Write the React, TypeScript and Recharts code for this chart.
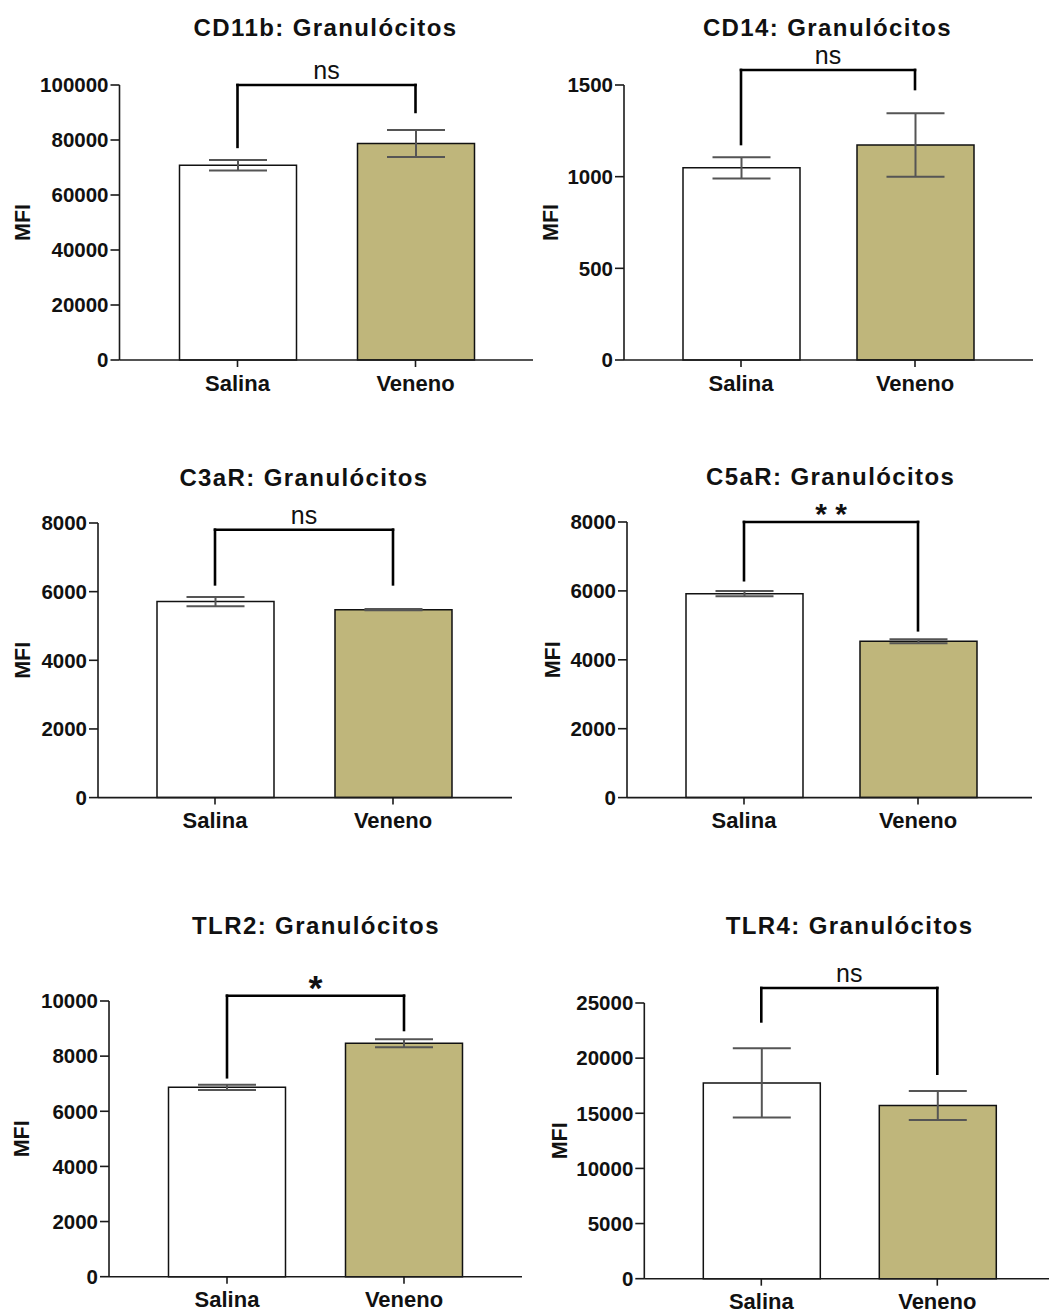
import { BarChart, Bar, XAxis, YAxis, ErrorBar, Cell, ReferenceLine } from "recharts";

const groups = ["Salina", "Veneno"];
const barFills = ["#ffffff", "#bfb67b"];

// mean and SEM per group
const cd11bMean = [70800, 78700];
const cd11bSem = [1900, 4900];
const cd11bTicks = [0, 20000, 40000, 60000, 80000, 100000];
const cd11bBracket = [100000, 77500, 90200]; // top, left leg end, right leg end

const cd14Mean = [1048, 1173];
const cd14Sem = [58, 173];
const cd14Ticks = [0, 500, 1000, 1500];
const cd14Bracket = [1582, 1178, 1478];

const c3arMean = [5710, 5475];
const c3arSem = [135, 18];
const c3arTicks = [0, 2000, 4000, 6000, 8000];
const c3arBracket = [7805, 6212, 6212];

const c5arMean = [5920, 4540];
const c5arSem = [75, 60];
const c5arTicks = [0, 2000, 4000, 6000, 8000];
const c5arBracket = [8000, 6310, 4856];

const tlr2Mean = [6870, 8465];
const tlr2Sem = [95, 145];
const tlr2Ticks = [0, 2000, 4000, 6000, 8000, 10000];
const tlr2Bracket = [10192, 7233, 8948];

const tlr4Mean = [17750, 15700];
const tlr4Sem = [3140, 1315];
const tlr4Ticks = [0, 5000, 10000, 15000, 20000, 25000];
const tlr4Bracket = [26360, 23330, 18590];

const FONT = '"Liberation Sans", Arial, Helvetica, sans-serif';
const INK = "#111";

type Box = {
  mfiX: number;
  axisX: number;
  right: number;
  plotTop: number;
  base: number;
  padL: number;
  padR: number;
  titleX: number;
  titleY: number;
};

type PanelProps = {
  title: string;
  mean: number[];
  sem: number[];
  ticks: number[];
  bracket: number[];
  sig: string;
  sigBold?: boolean;
  sigSize: number;
  sigOffset: number;
  box: Box;
};

const TOP_ROOM = 70;
const X_AXIS_H = 45;

function Panel({ title, mean, sem, ticks, bracket, sig, sigBold, sigSize, sigOffset, box }: PanelProps) {
  const data = groups.map((g, i) => ({ group: g, mfi: mean[i], sem: sem[i] }));
  const left = box.mfiX - 12;
  const width = box.right - left;
  const top = box.plotTop - TOP_ROOM;
  const height = box.base - box.plotTop + TOP_ROOM + X_AXIS_H;
  const [bTop, bLeft, bRight] = bracket;
  const lineStyle = { stroke: "#000", strokeWidth: 2.6, strokeLinecap: "square" as const };

  return (
    <>
      <div
        style={{
          position: "absolute",
          left: box.titleX - 250,
          top: box.titleY - 19.5,
          width: 500,
          textAlign: "center",
          fontFamily: FONT,
          fontWeight: "bold",
          fontSize: 24,
          lineHeight: "22px",
          letterSpacing: 1.4,
          color: INK,
          whiteSpace: "nowrap",
        }}
      >
        {title}
      </div>
      <div style={{ position: "absolute", left, top }}>
        <BarChart
          width={width}
          height={height}
          data={data}
          margin={{ top: TOP_ROOM, right: 0, bottom: 0, left: 0 }}
        >
          <XAxis
            dataKey="group"
            height={X_AXIS_H}
            padding={{ left: box.padL, right: box.padR }}
            stroke="#1a1a1a"
            strokeWidth={1.6}
            tickSize={7}
            tickMargin={8}
            tick={{ fill: INK, fontSize: 22, fontWeight: "bold", fontFamily: FONT }}
          />
          <YAxis
            width={box.axisX - left}
            domain={[0, ticks[ticks.length - 1]]}
            ticks={ticks}
            interval={0}
            stroke="#1a1a1a"
            strokeWidth={1.6}
            tickSize={9}
            tickMargin={2}
            tick={{ fill: INK, fontSize: 20.5, fontWeight: "bold", fontFamily: FONT }}
            label={{
              value: "MFI",
              angle: -90,
              position: "insideLeft",
              offset: 12,
              fill: INK,
              fontSize: 21.5,
              fontWeight: "bold",
              fontFamily: FONT,
              style: { textAnchor: "middle" },
            }}
          />
          <Bar dataKey="mfi" barSize={117} stroke="#111" strokeWidth={1.5} isAnimationActive={false}>
            {data.map((d, i) => (
              <Cell key={d.group} fill={barFills[i]} />
            ))}
            <ErrorBar
              dataKey="sem"
              direction="y"
              width={29}
              stroke="#555"
              strokeWidth={2}
              isAnimationActive={false}
            />
          </Bar>
          <ReferenceLine
            segment={[
              { x: groups[0], y: bTop },
              { x: groups[1], y: bTop },
            ]}
            ifOverflow="visible"
            {...lineStyle}
            label={{
              value: sig,
              position: "top",
              offset: sigOffset,
              fill: INK,
              fontSize: sigSize,
              fontWeight: sigBold ? "bold" : "normal",
              fontFamily: FONT,
            }}
          />
          <ReferenceLine
            segment={[
              { x: groups[0], y: bTop },
              { x: groups[0], y: bLeft },
            ]}
            ifOverflow="visible"
            {...lineStyle}
          />
          <ReferenceLine
            segment={[
              { x: groups[1], y: bTop },
              { x: groups[1], y: bRight },
            ]}
            ifOverflow="visible"
            {...lineStyle}
          />
        </BarChart>
      </div>
    </>
  );
}

export default function App() {
  return (
    <div
      style={{
        position: "absolute",
        left: 0,
        top: 0,
        width: 1049,
        height: 1310,
        overflow: "hidden",
        background: "#fff",
      }}
    >
      <Panel
        title="CD11b: Granulócitos"
        mean={cd11bMean}
        sem={cd11bSem}
        ticks={cd11bTicks}
        bracket={cd11bBracket}
        sig="ns"
        sigSize={25}
        sigOffset={6}
        box={{ mfiX: 21.5, axisX: 119, right: 533, plotTop: 85, base: 360, padL: 29, padR: 29, titleX: 325.5, titleY: 36 }}
      />
      <Panel
        title="CD14: Granulócitos"
        mean={cd14Mean}
        sem={cd14Sem}
        ticks={cd14Ticks}
        bracket={cd14Bracket}
        sig="ns"
        sigSize={25}
        sigOffset={6}
        box={{ mfiX: 550, axisX: 624, right: 1033, plotTop: 85, base: 360, padL: 30, padR: 31, titleX: 827.5, titleY: 36 }}
      />
      <Panel
        title="C3aR: Granulócitos"
        mean={c3arMean}
        sem={c3arSem}
        ticks={c3arTicks}
        bracket={c3arBracket}
        sig="ns"
        sigSize={25}
        sigOffset={6}
        box={{ mfiX: 22, axisX: 98, right: 512, plotTop: 522.7, base: 797.3, padL: 28, padR: 30, titleX: 304, titleY: 486 }}
      />
      <Panel
        title="C5aR: Granulócitos"
        mean={c5arMean}
        sem={c5arSem}
        ticks={c5arTicks}
        bracket={c5arBracket}
        sig="* *"
        sigBold
        sigSize={30}
        sigOffset={-2}
        box={{ mfiX: 552, axisX: 627, right: 1032, plotTop: 521.7, base: 797.3, padL: 30, padR: 27, titleX: 830.7, titleY: 485.7 }}
      />
      <Panel
        title="TLR2: Granulócitos"
        mean={tlr2Mean}
        sem={tlr2Sem}
        ticks={tlr2Ticks}
        bracket={tlr2Bracket}
        sig="*"
        sigBold
        sigSize={36}
        sigOffset={-4}
        box={{ mfiX: 21, axisX: 109, right: 522, plotTop: 1001, base: 1276.7, padL: 29.5, padR: 29.5, titleX: 316, titleY: 934 }}
      />
      <Panel
        title="TLR4: Granulócitos"
        mean={tlr4Mean}
        sem={tlr4Sem}
        ticks={tlr4Ticks}
        bracket={tlr4Bracket}
        sig="ns"
        sigSize={25}
        sigOffset={6}
        box={{ mfiX: 558.7, axisX: 644, right: 1049, plotTop: 1003.3, base: 1279, padL: 29, padR: 24, titleX: 849.7, titleY: 934 }}
      />
    </div>
  );
}
